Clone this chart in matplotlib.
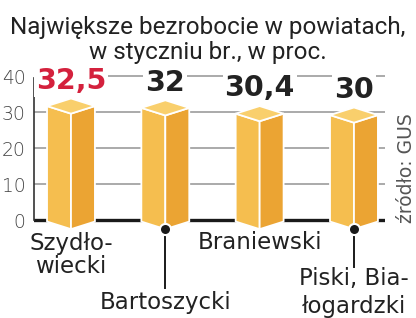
import matplotlib
matplotlib.use("Agg")
import matplotlib.pyplot as plt
import numpy as np
from matplotlib.patches import Polygon

# data
powiaty = ["Szydło-\nwiecki", "Bartoszycki", "Braniewski", "Piski, Bia-\nłogardzki"]
bezrobocie = [32.5, 32.0, 30.4, 30.0]
etykiety = ["32,5", "32", "30,4", "30"]
yticks = [0, 10, 20, 30, 40]

W, H = 416, 318
fig = plt.figure(figsize=(W / 100, H / 100), dpi=100)
fig.patch.set_facecolor("white")

# axes box in pixels: x 34..385, y 60..232 (from top)
ax = fig.add_axes([34 / W, 1 - 232 / H, (385 - 34) / W, (232 - 60) / H])
ax.set_xlim(-0.392, 3.329)
ax.set_ylim(-3.19, 44.46)
ax.set_facecolor("none")

FRONT, SIDE, TOP = "#f5be4f", "#eba433", "#f9cf6c"
hw = 0.254   # half bar width (x units)
d = 2.1      # iso depth (y units)

x = np.arange(len(bezrobocie))
for xi, v in zip(x, bezrobocie):
    c = v - 0.8          # side corners of the top face
    b = -0.3             # side corners at the bottom
    front = [(xi - hw, b), (xi, b - d), (xi, c - d), (xi - hw, c)]
    side = [(xi, b - d), (xi + hw, b), (xi + hw, c), (xi, c - d)]
    top = [(xi - hw, c), (xi, c + d), (xi + hw, c), (xi, c - d)]
    for pts, col in ((front, FRONT), (side, SIDE), (top, TOP)):
        ax.add_patch(Polygon(pts, closed=True, facecolor=col, edgecolor="white",
                             lw=1.3, joinstyle="round", zorder=3, clip_on=False))

# grid + axes lines
for t in yticks[1:]:
    ax.axhline(t, color="#9c9c9c", lw=1.2, zorder=1)
ax.axhline(0, color="#1a1a1a", lw=2.4, zorder=2)
ax.plot([-0.392, -0.392], [0, 39.6], color="#333333", lw=1.2, zorder=2, clip_on=False)
for s in ax.spines.values():
    s.set_visible(False)
ax.set_xticks([])
ax.set_yticks(yticks)
ax.set_yticklabels([str(t) for t in yticks], fontsize=13.5, color="#444444",
                   family="DejaVu Sans", fontweight="light")
ax.tick_params(axis="y", length=0, pad=6)

# value labels
for xi, v, lab in zip(x, bezrobocie, etykiety):
    col = "#d4213d" if xi == 0 else "#222222"
    ax.text(xi, v + 4.0, lab, ha="center", va="baseline", fontsize=20.5,
            fontweight="bold", color=col, family="DejaVu Sans", zorder=5,
            bbox=dict(facecolor="white", edgecolor="none", pad=1.5))

# category labels
lab_font = dict(fontsize=16.5, color="#222222", family="DejaVu Sans", ha="center",
                va="center", clip_on=False)
ax.text(x[0], -9.7, powiaty[0], linespacing=1.0, **lab_font)
ax.text(x[1], -22.8, powiaty[1], **lab_font)
ax.text(x[2], -6.2, powiaty[2], **lab_font)
ax.text(x[3], -19.9, powiaty[3], linespacing=1.3, **lab_font)

# leader lines with dots
for xi, y_end in ((x[1], -18.7), (x[3], -12.9)):
    ax.plot([xi, xi], [-2.3, y_end], color="#1a1a1a", lw=1.4, zorder=4, clip_on=False)
    ax.plot(xi, -2.3, "o", ms=8, mfc="#1a1a1a", mec="white", mew=1.5, zorder=6,
            clip_on=False)

# title
fig.text(208 / W, 1 - 40 / H, "Największe bezrobocie w powiatach,\nw styczniu br., w proc.",
         ha="center", va="center", fontsize=17.5, color="#222222", family="Roboto",
         linespacing=1.12)

# source
fig.text(407 / W, 1 - 168 / H, "źródło: GUS", rotation=90, ha="center", va="center",
         fontsize=13.5, color="#555555", family="DejaVu Sans")

fig.savefig("out.png", dpi=100)
